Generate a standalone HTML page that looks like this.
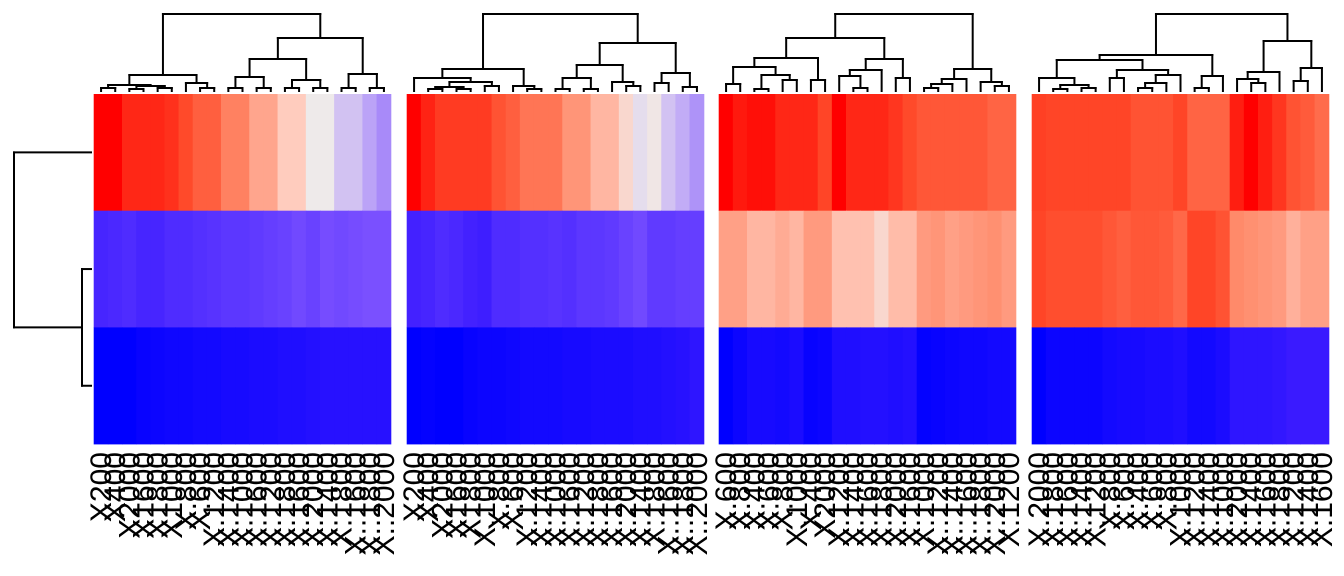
<!DOCTYPE html>
<html><head><meta charset="utf-8">
<style>
html,body{margin:0;padding:0;background:#fff;}
svg{display:block;}
text{font-family:"Liberation Sans",sans-serif;}
</style></head>
<body>
<svg id="chart" width="1344" height="576" viewBox="0 0 1344 576" xmlns="http://www.w3.org/2000/svg"></svg>
<script>
// ---- data ----
const panelX = [94, 407, 719, 1032];
const rowNames = ["row-1", "row-2", "row-3"];
const p1Row1 = [1,1,0.92,0.92,0.92,0.9,0.85,0.8,0.8,0.72,0.72,0.65,0.65,0.58,0.58,0.5,0.5,0.44,0.44,0.4,0.37];
const p1Row2 = [0.18,0.19,0.2,0.18,0.18,0.2,0.2,0.21,0.22,0.23,0.23,0.24,0.25,0.26,0.28,0.26,0.29,0.28,0.29,0.3,0.3];
const p1Row3 = [0,0,0,0.02,0.03,0.04,0.04,0.05,0.05,0.06,0.06,0.07,0.07,0.08,0.08,0.09,0.1,0.1,0.1,0.1,0.1];
const p2Row1 = [1,0.93,0.88,0.88,0.88,0.88,0.83,0.8,0.75,0.75,0.75,0.68,0.68,0.62,0.62,0.55,0.48,0.51,0.44,0.41,0.38];
const p2Row2 = [0.17,0.18,0.2,0.19,0.17,0.16,0.2,0.2,0.21,0.21,0.22,0.21,0.23,0.23,0.24,0.26,0.28,0.24,0.24,0.25,0.25];
const p2Row3 = [0,0.01,0,0,0.02,0.03,0.03,0.04,0.05,0.05,0.05,0.06,0.06,0.07,0.07,0.07,0.08,0.08,0.09,0.1,0.12];
const p3Row1 = [1,0.95,0.97,0.97,0.92,0.92,0.92,0.86,1,0.92,0.92,0.92,0.89,0.85,0.82,0.82,0.82,0.82,0.82,0.79,0.79];
const p3Row2 = [0.66,0.66,0.62,0.62,0.64,0.62,0.67,0.67,0.6,0.6,0.6,0.55,0.61,0.61,0.67,0.68,0.66,0.67,0.68,0.69,0.67];
const p3Row3 = [0,0.03,0.06,0.06,0.05,0.07,0.02,0.03,0.08,0.08,0.09,0.09,0.08,0.09,0.01,0.02,0.03,0.04,0.04,0.05,0.05];
const p4Row1 = [0.87,0.86,0.86,0.86,0.86,0.86,0.86,0.83,0.83,0.83,0.86,0.79,0.79,0.79,0.94,1,0.94,0.89,0.83,0.81,0.77];
const p4Row2 = [0.86,0.84,0.84,0.84,0.84,0.82,0.8,0.82,0.82,0.81,0.78,0.86,0.86,0.83,0.7,0.69,0.68,0.67,0.63,0.66,0.66];
const p4Row3 = [0,0.03,0.03,0.03,0.03,0.05,0.06,0.06,0.07,0.07,0.08,0.05,0.05,0.07,0.12,0.12,0.12,0.13,0.15,0.15,0.15];
const p1Labels = ["X200","X400","X2000","X1600","X1800","X1000","X.800","X.600","X.1200","X.1400","X.1000","X.1600","X.1200","X.1800","X.1600","X.2000","X.1400","X.1800","X..1600","X..1800","X..2000"];
const p2Labels = ["X200","X400","X2000","X1600","X1800","X.1000","X.800","X.600","X.1200","X.1400","X.1000","X.1600","X.1200","X.1800","X.1600","X.2000","X.1400","X.1800","X..1600","X..1800","X..2000"];
const p3Labels = ["X.600","X.800","X.400","X.600","X.800","X.1000","X.400","X2000","X.1200","X.1400","X.1600","X.1800","X.2000","X.1600","X.1000","X..1200","X..1400","X..1600","X..1800","X..2000","X.1200"];
const p4Labels = ["X.2000","X.1800","X.1600","X.1400","X.1200","X.800","X.600","X.400","X.600","X.800","X.1000","X.1200","X.1400","X.1000","X.2000","X.1400","X.1600","X.1800","X.1200","X.1400","X.1600"];
// trees: [mergeHeight, left, right]; leaves are column indices
const p1Tree = [77,[16,[6,[3,0,1],[5,[2,2,3],[3,4,5]]],[8,6,[3,7,8]]],[53,[32,[14,[3,9,10],[3,11,12]],[11,[3,13,14],[3,15,16]]],[17,[3,17,18],[3,19,20]]]];
const p2Tree = [77,[22,[13,0,[9,[4,[2,1,2],[2,3,4]],[5,5,6]]],[5,7,[2,8,9]]],[48,[26,[13,[2,10,11],[2,12,13]],[9,14,[5,15,16]]],[18,[8,17,18],[4,19,20]]]];
const p3Tree = [77,[53,[33,[24,[7,0,1],[16,[2,2,3],[11,4,5]]],[11,6,7]],[32,[21,[15,8,[3,9,10]],11],[13,12,13]]],[22,[12,[7,[3,14,15],16],17],[9,18,[5,19,20]]]];
const p4Tree = [77,[36,[31,[13,0,[6,[2,1,2],[3,3,4]]],[21,[13,5,6],[16,[8,[3,7,8],9],10]]],[15,[3,11,12],13]],[50,[19,[12,14,[8,15,16]],17],[23,[10,18,19],20]]];
const rowTree = [77,0,[9,1,2]];

const panels = [
  {rows:[p1Row1,p1Row2,p1Row3], labels:p1Labels, tree:p1Tree},
  {rows:[p2Row1,p2Row2,p2Row3], labels:p2Labels, tree:p2Tree},
  {rows:[p3Row1,p3Row2,p3Row3], labels:p3Labels, tree:p3Tree},
  {rows:[p4Row1,p4Row2,p4Row3], labels:p4Labels, tree:p4Tree}
];

// ---- layout / scales ----
const NS = "http://www.w3.org/2000/svg";
const svg = document.getElementById("chart");
const panelW = 297, topY = 94, rowH = 116.7, nCols = 21;
const colW = panelW / nCols;
const dendroBase = 91;
const colX = (p, i) => panelX[p] + i * colW;
const colCenter = (p, i) => colX(p, i) + colW / 2;
const rowY = r => topY + r * rowH;
const hToY = h => dendroBase - h;
const stops = [[0,[0,0,255]],[0.15,[58,26,255]],[0.3,[122,80,255]],[0.42,[200,180,245]],[0.5,[238,234,234]],[0.58,[255,204,190]],[0.7,[255,138,106]],[0.85,[255,74,42]],[1,[255,0,0]]];
function color(v){
  for(let k=1;k<stops.length;k++){
    if(v<=stops[k][0]){
      const a=stops[k-1], b=stops[k], t=(v-a[0])/(b[0]-a[0]);
      const c=a[1].map((x,j)=>Math.round(x+(b[1][j]-x)*t));
      return `rgb(${c[0]},${c[1]},${c[2]})`;
    }
  }
  return "rgb(255,0,0)";
}
function mk(tag, attrs){
  const e=document.createElementNS(NS,tag);
  for(const k in attrs) e.setAttribute(k,attrs[k]);
  svg.appendChild(e);
  return e;
}
function line(x1,y1,x2,y2,name){
  const l=mk("line",{x1,y1,x2,y2,stroke:"#000","stroke-width":2,"stroke-linecap":"square"});
  
  
}
function drawTree(node, p){
  if(typeof node === "number") return [colCenter(p,node), dendroBase];
  const a = drawTree(node[1], p), b = drawTree(node[2], p);
  const y = hToY(node[0]);
  line(a[0],a[1],a[0],y,"dendrogram-branch");
  line(b[0],b[1],b[0],y,"dendrogram-branch");
  line(a[0],y,b[0],y,"dendrogram-branch");
  return [(a[0]+b[0])/2, y];
}

panels.forEach((pd,p)=>{
  pd.rows.forEach((vals,r)=>{
    vals.forEach((v,i)=>{
      const c=mk("rect",{x:colX(p,i)-0.3,y:rowY(r),width:colW+0.6,height:rowH+0.3,fill:color(v)});
      
      
    });
  });
  pd.labels.forEach((lab,i)=>{
    const x=colCenter(p,i)+10, y=452;
    const t=mk("text",{x:x,y:y,"font-size":30,"text-anchor":"end",transform:`rotate(-90 ${x} ${y})`});
    t.textContent=lab;
    
    
  });
  drawTree(pd.tree, p);
});

// row dendrogram
const rowCenter = r => rowY(r) + rowH/2;
const rowHx = h => 91 - h;
function drawRowTree(node){
  if(typeof node === "number") return [91, rowCenter(node)];
  const a = drawRowTree(node[1]), b = drawRowTree(node[2]);
  const x = rowHx(node[0]);
  line(a[0],a[1],x,a[1],"row-dendrogram-branch");
  line(b[0],b[1],x,b[1],"row-dendrogram-branch");
  line(x,a[1],x,b[1],"row-dendrogram-branch");
  return [x,(a[1]+b[1])/2];
}
drawRowTree(rowTree);
</script>
</body></html>
